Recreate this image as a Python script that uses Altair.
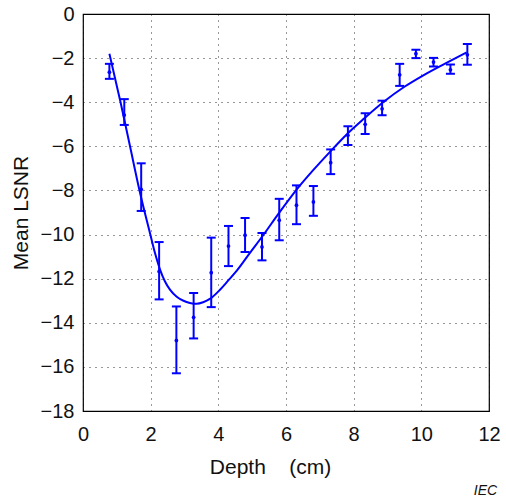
import altair as alt
import pandas as pd

# Error-bar data
depth = [0.78, 1.22, 1.72, 2.25, 2.76, 3.27, 3.79, 4.30, 4.79, 5.29, 5.80,
         6.31, 6.81, 7.32, 7.83, 8.34, 8.84, 9.36, 9.84, 10.36, 10.86, 11.36]
mean_lsnr = [-2.64, -4.58, -7.95, -11.67, -14.80, -13.75, -11.73, -10.52, -10.03, -10.56, -9.35,
             -8.67, -8.52, -6.74, -5.50, -5.00, -4.30, -2.76, -1.80, -2.18, -2.53, -1.85]
upper = [-2.26, -3.86, -6.77, -10.34, -13.26, -12.65, -10.14, -9.61, -9.25, -9.93, -8.38,
         -7.77, -7.80, -6.14, -5.09, -4.50, -3.93, -2.26, -1.62, -1.99, -2.29, -1.36]
lower = [-2.94, -5.03, -8.93, -12.94, -16.29, -14.71, -13.29, -11.43, -10.79, -11.17, -10.26,
         -9.53, -9.15, -7.26, -5.94, -5.44, -4.59, -3.26, -2.00, -2.38, -2.71, -2.30]

# Fitted curve
fit_x = [0.78, 1.11, 1.39, 1.67, 1.99, 2.13, 2.28, 2.42, 2.57, 2.77, 2.97, 3.16, 3.36, 3.55,
         3.75, 4.05, 4.30, 4.54, 4.94, 5.33, 5.78, 6.32, 6.81, 7.30, 7.80, 8.30, 8.88, 9.50,
         10.06, 10.70, 11.34]
fit_y = [-1.80, -4.00, -6.00, -8.00, -10.00, -10.85, -11.60, -12.12, -12.50, -12.82, -13.00, -13.10, -13.14, -13.07,
         -12.92, -12.50, -12.07, -11.65, -10.82, -10.02, -9.05, -7.95, -7.07, -6.25, -5.45, -4.75, -3.99, -3.30,
         -2.78, -2.25, -1.74]

ticks_x = [0, 2, 4, 6, 8, 10, 12]
ticks_y = [0, -2, -4, -6, -8, -10, -12, -14, -16, -18]

pts = pd.DataFrame({"depth": depth, "mean": mean_lsnr, "lo": lower, "hi": upper})
fit = pd.DataFrame({"x": fit_x, "y": fit_y})

FONT = "Liberation Sans"
BLUE = "#0000ff"
TXT = "#111111"

xscale = alt.Scale(domain=[0, 12], nice=False, zero=False)
yscale = alt.Scale(domain=[-18, 0], nice=False, zero=False)

xaxis = alt.Axis(values=ticks_x, title="Depth\u00a0\u00a0\u00a0 (cm)", grid=True, gridDash=[1, 5],
                 gridColor="#000000", gridOpacity=0.8, ticks=False, domain=False, labelFlush=False,
                 labelFont=FONT, labelFontSize=20, labelColor=TXT, labelPadding=13,
                 titleFont=FONT, titleFontSize=21, titleFontWeight="normal", titleColor=TXT,
                 titleX=187, titleY=62, titleBaseline="alphabetic", titleAlign="center")
yaxis = alt.Axis(values=ticks_y, title="Mean LSNR", grid=True, gridDash=[1, 5],
                 gridColor="#000000", gridOpacity=0.8, ticks=False, domain=False, labelFlush=False,
                 labelFont=FONT, labelFontSize=20, labelColor=TXT, labelPadding=9,
                 titleFont=FONT, titleFontSize=21, titleFontWeight="normal", titleColor=TXT,
                 titleX=-62, titleBaseline="middle")

base_pts = alt.Chart(pts)

curve = alt.Chart(fit).mark_line(color=BLUE, strokeWidth=2, interpolate="monotone").encode(
    x=alt.X("x:Q", scale=xscale, axis=xaxis),
    y=alt.Y("y:Q", scale=yscale, axis=yaxis),
)

bars = base_pts.mark_rule(color=BLUE, strokeWidth=2).encode(
    x=alt.X("depth:Q", scale=xscale),
    y=alt.Y("lo:Q", scale=yscale),
    y2="hi:Q",
)

cap_lo = base_pts.mark_tick(color=BLUE, thickness=2, size=9, orient="horizontal", opacity=1).encode(
    x=alt.X("depth:Q", scale=xscale),
    y=alt.Y("lo:Q", scale=yscale),
)
cap_hi = base_pts.mark_tick(color=BLUE, thickness=2, size=9, orient="horizontal", opacity=1).encode(
    x=alt.X("depth:Q", scale=xscale),
    y=alt.Y("hi:Q", scale=yscale),
)
dots = base_pts.mark_circle(color=BLUE, size=14, opacity=1).encode(
    x=alt.X("depth:Q", scale=xscale),
    y=alt.Y("mean:Q", scale=yscale),
)

chart = alt.layer(curve, bars, cap_lo, cap_hi, dots).properties(
    width=406,
    height=397,
    autosize=alt.AutoSizeParams(type="none"),
    padding={"left": 83, "top": 14, "right": 17, "bottom": 91},
    title=alt.TitleParams("IEC", orient="bottom", anchor="end", font=FONT, fontSize=14,
                          fontStyle="italic", fontWeight="normal", color=TXT,
                          offset=7, dx=-3, dy=0),
).configure_view(stroke="#000000", strokeWidth=1.2)

chart.save("out.html", embed_options={"renderer": "svg", "actions": False})
